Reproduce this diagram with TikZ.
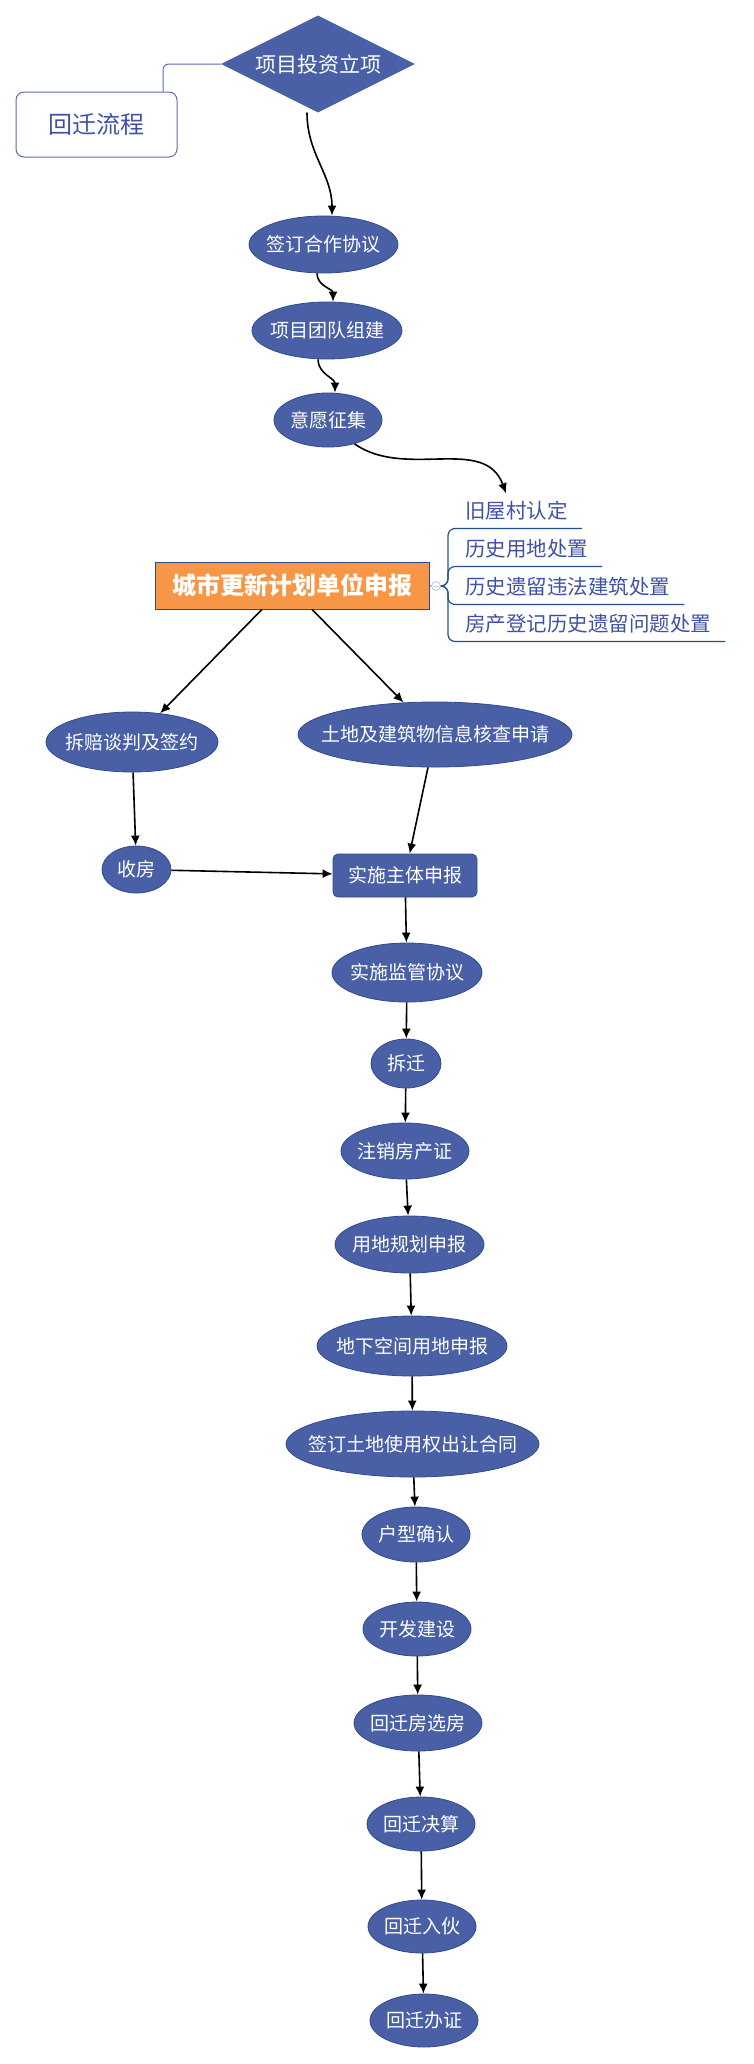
\documentclass[tikz,border=0pt]{standalone}
\usepackage{fontspec}
\setmainfont{Noto Sans CJK SC}
\usetikzlibrary{shapes.geometric,arrows.meta}
\definecolor{flowblue}{HTML}{4A60A6}
\definecolor{flowedge}{HTML}{2F4B8F}
\definecolor{mapblue}{HTML}{3F51A5}
\definecolor{mapline}{HTML}{24508F}
\definecolor{planorange}{HTML}{F79646}
\newcommand{\nowidth}[1]{\makebox[0pt]{#1}}
\tikzset{
  stage/.style 2 args={ellipse,fill=flowblue,draw=flowedge,line width=0.8pt,text=white,inner sep=0pt,
    minimum width=#1,minimum height=#2,font=\fontsize{19pt}{19pt}\selectfont},
  flow/.style={->,line width=1.6pt},
  item/.style={anchor=west,inner sep=0pt,text=mapblue,font=\fontsize{20.5pt}{21pt}\selectfont}
}
\begin{document}
\begin{tikzpicture}[>={Latex[length=10pt,width=9pt]},x=1pt,y=-1pt]
            \useasboundingbox (0,0) rectangle (753,2064);
            % head of the chart
            \node[diamond,aspect=2,fill=flowblue,text=white,inner sep=0pt,minimum width=194pt,minimum height=97pt,
                  font=\fontsize{21pt}{21pt}\selectfont] (inv) at (318,64) {\nowidth{项目投资立项}};
            \node[draw=mapblue!85,line width=1pt,rounded corners=8pt,minimum width=161pt,minimum height=65pt,
                  text=mapblue,font=\fontsize{24pt}{24pt}\selectfont] (title) at (96.5,124.5) {回迁流程};
            \draw[mapblue!85,line width=1pt,rounded corners=6pt] ([xshift=66.5pt]title.north) |- (inv.west);
            \node[stage={149pt}{57pt}] (sign) at (323.5,244.5) {\nowidth{签订合作协议}};
            \node[stage={150pt}{57pt}] (team) at (327,330.5) {\nowidth{项目团队组建}};
            \node[stage={108pt}{54pt}] (will) at (328,420) {\nowidth{意愿征集}};
            \draw[flow] ([xshift=-11pt]inv.south) to[out=-90,in=90] ([xshift=8.5pt]sign.north);
            \draw[flow] ([xshift=-6.5pt]sign.south) to[out=-90,in=90] ([xshift=6pt]team.north);
            \draw[flow] ([xshift=-9pt]team.south) to[out=-90,in=90] ([xshift=7pt]will.north);
            % plan and its side list
            \node[fill=planorange,draw=flowedge,line width=0.8pt,minimum width=274pt,minimum height=47pt,text=white,
                  font=\bfseries\fontsize{24pt}{24pt}\selectfont] (plan) at (292,585.5) {城市更新计划单位申报};
            \node[circle,draw=mapblue!35,line width=0.8pt,minimum size=9pt,inner sep=0pt] (fold) at (436,586) {};
            \draw[mapblue!35,line width=0.8pt] ([xshift=-2.5pt]fold.center) -- ([xshift=2.5pt]fold.center);
            \draw[mapline,line width=0.8pt] (plan.east) -- (fold.west);
            \foreach \n/\y/\t in {i1/511/旧屋村认定,i2/549/历史用地处置,i3/587/历史遗留违法建筑处置,i4/624/房产登记历史遗留问题处置}
            {
                \node[item] (\n) at (465,\y) {\t};
                \draw[mapline,line width=1.2pt,rounded corners=7pt] (fold.east) -| ([xshift=-17pt,yshift=-17.5pt]\n.west)
                    -- ([xshift=14pt,yshift=-17.5pt]\n.east);
            }
            \draw[flow] (will.-42) to[out=-35,in=110] ([xshift=41pt,yshift=8pt]i1.north west);
            % two branches
            \node[stage={172pt}{60pt}] (nego) at (132,742) {\nowidth{拆赔谈判及签约}};
            \node[stage={274pt}{65pt}] (land) at (435,734.5) {\nowidth{土地及建筑物信息核查申请}};
            \node[stage={69pt}{47pt}] (recv) at (136.5,869.5) {\nowidth{收房}};
            \node[fill=flowblue,draw=flowedge,line width=0.8pt,rounded corners=5pt,minimum width=144pt,minimum height=43pt,
                  text=white,font=\fontsize{19pt}{19pt}\selectfont] (subj) at (405,875.5) {实施主体申报};
            \draw[flow] ([xshift=-30pt]plan.south) -- (nego);
            \draw[flow] ([xshift=20pt]plan.south) -- (land);
            \draw[flow] (nego) -- (recv);
            \draw[flow] (recv) -- (subj);
            \draw[flow] (land) -- (subj);
            % main line down
            \node[stage={150pt}{59pt}] (supv) at (407,972.5) {\nowidth{实施监管协议}};
            \node[stage={70pt}{49pt}] (demo) at (406,1063.5) {\nowidth{拆迁}};
            \node[stage={128pt}{56pt}] (canc) at (405,1151) {\nowidth{注销房产证}};
            \node[stage={149pt}{57pt}] (plng) at (409.5,1244.5) {\nowidth{用地规划申报}};
            \node[stage={190pt}{60pt}] (undg) at (412,1346) {\nowidth{地下空间用地申报}};
            \node[stage={253pt}{66pt}] (lease) at (412.5,1444) {\nowidth{签订土地使用权出让合同}};
            \node[stage={108pt}{55pt}] (type) at (416,1534.5) {\nowidth{户型确认}};
            \node[stage={108pt}{54pt}] (build) at (417,1629) {\nowidth{开发建设}};
            \node[stage={128pt}{56pt}] (pick) at (418,1723) {\nowidth{回迁房选房}};
            \node[stage={108pt}{54pt}] (acct) at (421,1824) {\nowidth{回迁决算}};
            \node[stage={108pt}{53pt}] (move) at (422,1926.5) {\nowidth{回迁入伙}};
            \node[stage={108pt}{53pt}] (cert) at (424,2020.5) {\nowidth{回迁办证}};
            \foreach \a/\b in {subj/supv,supv/demo,demo/canc,canc/plng,plng/undg,undg/lease,lease/type,type/build,build/pick,pick/acct,acct/move,move/cert}
            \draw[flow] (\a) -- (\b);
        \end{tikzpicture}
\end{document}
